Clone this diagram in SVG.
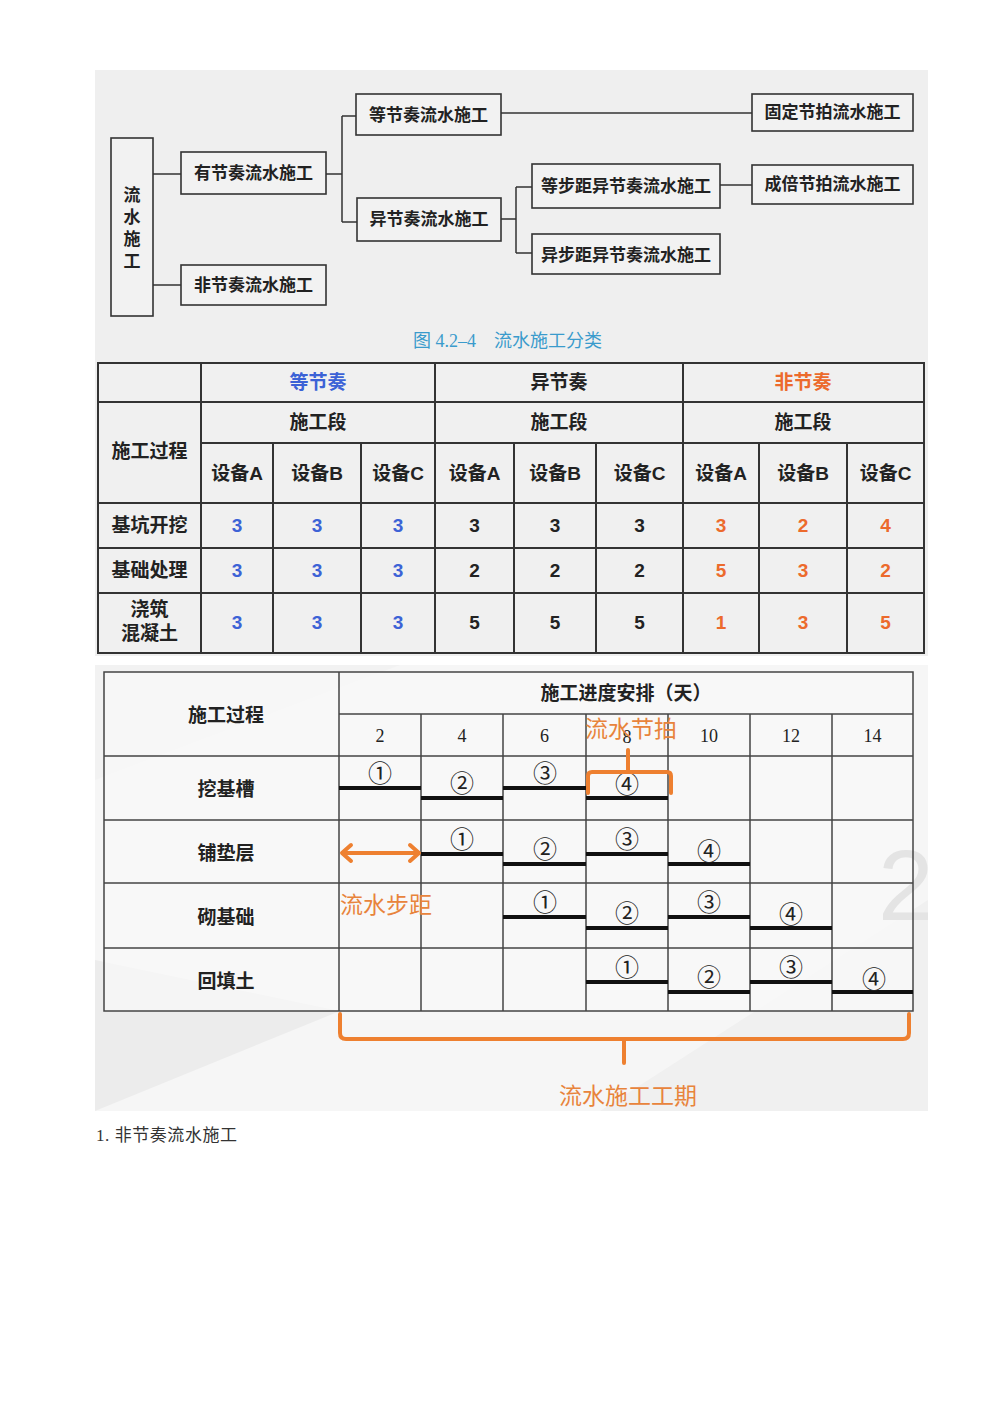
<svg xmlns="http://www.w3.org/2000/svg" width="1000" height="1414" viewBox="0 0 1000 1414">
<style>
.box{fill:#f2f2f2;stroke:#333;stroke-width:1.6}
.conn{fill:none;stroke:#333;stroke-width:1.5}
.tt{font-family:"Liberation Serif","Noto Sans CJK SC",serif;font-weight:bold;fill:#222;text-anchor:middle;dominant-baseline:central}
.tl{stroke:#333;stroke-width:2;fill:none}
.th{font-family:"Liberation Sans","Noto Sans CJK SC",sans-serif;font-weight:bold;font-size:19px;fill:#222;text-anchor:middle;dominant-baseline:central}
.blue{fill:#3c62d6}
.org{fill:#ec6a2c}
.gl{stroke:#444;stroke-width:1.5;fill:none}
.gt{font-family:"Liberation Serif","Noto Sans CJK SC",serif;font-weight:bold;font-size:19px;fill:#222;text-anchor:middle;dominant-baseline:central}
.num{font-family:"Liberation Serif","Noto Sans CJK SC",serif;font-size:18px;fill:#222;text-anchor:middle;dominant-baseline:central}
.cir{font-family:"Noto Sans CJK SC","DejaVu Sans",sans-serif;font-size:24px;fill:#222;text-anchor:middle;dominant-baseline:central}
.bar{stroke:#111;stroke-width:4}
.ann{fill:none;stroke:#ee8030;stroke-width:4;stroke-linecap:round;stroke-linejoin:round}
.at{font-family:"Noto Sans CJK SC","Liberation Sans",sans-serif;font-size:23px;fill:#e8843c;text-anchor:middle;dominant-baseline:central}
</style>
<rect width="1000" height="1414" fill="#ffffff"/>
<!-- top panel and table background -->
<rect x="95" y="70" width="833" height="586" fill="#efefef"/>

<!-- Tree connectors -->
<g id="tree-connectors">
<path class="conn" d="M153,174 H181 M153,285 H181"/>
<path class="conn" d="M326,174 H342 M342,116 V222 M342,116 H356 M342,222 H357"/>
<path class="conn" d="M501,113 H752"/>
<path class="conn" d="M501,219 H516 M516,187 V253 M516,187 H532 M516,253 H532"/>
<path class="conn" d="M720,185 H752"/>
</g>

<g id="node-root">
<rect class="box" x="111" y="138" width="42" height="178"/>
<text class="tt" font-size="17" x="132" y="195">流</text>
<text class="tt" font-size="17" x="132" y="217">水</text>
<text class="tt" font-size="17" x="132" y="239">施</text>
<text class="tt" font-size="17" x="132" y="261">工</text>
</g>
<g id="node-youjiezou">
<rect class="box" x="181" y="152" width="145" height="42"/>
<text class="tt" font-size="17" x="253.5" y="173">有节奏流水施工</text>
</g>
<g id="node-feijiezou">
<rect class="box" x="181" y="265" width="145" height="40"/>
<text class="tt" font-size="17" x="253.5" y="285">非节奏流水施工</text>
</g>
<g id="node-dengjiezou">
<rect class="box" x="356" y="94" width="145" height="41"/>
<text class="tt" font-size="17" x="428.5" y="115">等节奏流水施工</text>
</g>
<g id="node-yijiezou">
<rect class="box" x="357" y="198" width="144" height="43"/>
<text class="tt" font-size="17" x="429" y="219">异节奏流水施工</text>
</g>
<g id="node-guding">
<rect class="box" x="752" y="94" width="161" height="37"/>
<text class="tt" font-size="17" x="832.5" y="112">固定节拍流水施工</text>
</g>
<g id="node-dengbuju">
<rect class="box" x="532" y="164" width="188" height="44"/>
<text class="tt" font-size="17" x="626" y="186">等步距异节奏流水施工</text>
</g>
<g id="node-yibuju">
<rect class="box" x="532" y="234" width="188" height="40"/>
<text class="tt" font-size="17" x="626" y="255">异步距异节奏流水施工</text>
</g>
<g id="node-chengbei">
<rect class="box" x="752" y="165" width="161" height="39"/>
<text class="tt" font-size="17" x="832.5" y="184">成倍节拍流水施工</text>
</g>
<text x="413" y="341" font-family="Liberation Serif,'Noto Sans CJK SC',serif" font-size="18" fill="#3a9bcc" dominant-baseline="central">图 4.2–4　流水施工分类</text>

<!-- Table -->
<g id="table">
<rect x="98" y="363" width="826" height="290" fill="#f0f0f0" stroke="#333" stroke-width="2"/>
<path class="tl" d="M98,402 H924 M201,443 H924 M98,503 H924 M98,548 H924 M98,593 H924"/>
<path class="tl" d="M201,363 V653 M435,363 V653 M683,363 V653"/>
<path class="tl" d="M273,443 V653 M361,443 V653 M514,443 V653 M596,443 V653 M759,443 V653 M847,443 V653"/>
<text class="th blue" x="318" y="382">等节奏</text>
<text class="th" x="559" y="382">异节奏</text>
<text class="th org" x="803" y="382">非节奏</text>
<text class="th" x="318" y="422">施工段</text>
<text class="th" x="559" y="422">施工段</text>
<text class="th" x="803" y="422">施工段</text>
<text class="th" x="149.5" y="451">施工过程</text>
<text class="th" x="237" y="473">设备A</text>
<text class="th" x="317" y="473">设备B</text>
<text class="th" x="398" y="473">设备C</text>
<text class="th" x="474.5" y="473">设备A</text>
<text class="th" x="555" y="473">设备B</text>
<text class="th" x="639.5" y="473">设备C</text>
<text class="th" x="721" y="473">设备A</text>
<text class="th" x="803" y="473">设备B</text>
<text class="th" x="885.5" y="473">设备C</text>
<text class="th" x="149.5" y="525">基坑开挖</text>
<text class="th" x="149.5" y="570">基础处理</text>
<text class="th" x="149.5" y="609">浇筑</text>
<text class="th" x="149.5" y="633">混凝土</text>
<g font-weight="normal">
<text class="th blue" x="237" y="525">3</text><text class="th blue" x="317" y="525">3</text><text class="th blue" x="398" y="525">3</text>
<text class="th" x="474.5" y="525">3</text><text class="th" x="555" y="525">3</text><text class="th" x="639.5" y="525">3</text>
<text class="th org" x="721" y="525">3</text><text class="th org" x="803" y="525">2</text><text class="th org" x="885.5" y="525">4</text>
<text class="th blue" x="237" y="570">3</text><text class="th blue" x="317" y="570">3</text><text class="th blue" x="398" y="570">3</text>
<text class="th" x="474.5" y="570">2</text><text class="th" x="555" y="570">2</text><text class="th" x="639.5" y="570">2</text>
<text class="th org" x="721" y="570">5</text><text class="th org" x="803" y="570">3</text><text class="th org" x="885.5" y="570">2</text>
<text class="th blue" x="237" y="622">3</text><text class="th blue" x="317" y="622">3</text><text class="th blue" x="398" y="622">3</text>
<text class="th" x="474.5" y="622">5</text><text class="th" x="555" y="622">5</text><text class="th" x="639.5" y="622">5</text>
<text class="th org" x="721" y="622">1</text><text class="th org" x="803" y="622">3</text><text class="th org" x="885.5" y="622">5</text>
</g>
</g>

<!-- Gantt panel -->
<rect x="95" y="665" width="833" height="446" fill="#f6f6f6"/>
<polygon points="95,960 340,1011 95,1111" fill="#ececec"/>
<polygon points="600,1111 928,900 928,1111" fill="#f0f0f0"/>
<polygon points="95,665 400,665 95,780" fill="#f2f2f2"/>
<rect x="104" y="672" width="809" height="339" fill="#fafafa" fill-opacity="0.7"/>
<defs><clipPath id="pc"><rect x="95" y="665" width="833" height="446"/></clipPath></defs>
<text x="878" y="920" font-family="Liberation Sans,sans-serif" font-size="100" fill="#e4e4e4" clip-path="url(#pc)">2</text>

<g id="gantt">
<rect class="gl" x="104" y="672" width="809" height="339"/>
<path class="gl" d="M339,714 H913 M104,756 H913 M104,820 H913 M104,883 H913 M104,948 H913"/>
<path class="gl" d="M339,672 V1011 M421,714 V1011 M503,714 V1011 M586,714 V1011 M668,714 V1011 M750,714 V1011 M832,714 V1011"/>
<text class="gt" x="226" y="715">施工过程</text>
<text class="gt" x="626" y="693">施工进度安排（天）</text>
<text class="num" x="380" y="736">2</text>
<text class="num" x="462" y="736">4</text>
<text class="num" x="544.5" y="736">6</text>
<text class="num" x="627" y="737">8</text>
<text class="num" x="709" y="736">10</text>
<text class="num" x="791" y="736">12</text>
<text class="num" x="872.5" y="736">14</text>
<text class="gt" x="226" y="789">挖基槽</text>
<text class="gt" x="226" y="853">铺垫层</text>
<text class="gt" x="226" y="917">砌基础</text>
<text class="gt" x="226" y="981">回填土</text>
</g>

<g id="bars">
<line class="bar" x1="339" y1="788" x2="421" y2="788"/>
<line class="bar" x1="421" y1="798" x2="503" y2="798"/>
<line class="bar" x1="503" y1="788" x2="586" y2="788"/>
<line class="bar" x1="586" y1="798" x2="668" y2="798"/>
<text class="cir" x="380" y="771">①</text>
<text class="cir" x="462" y="781">②</text>
<text class="cir" x="545" y="771">③</text>
<text class="cir" x="627" y="782">④</text>

<line class="bar" x1="421" y1="854" x2="503" y2="854"/>
<line class="bar" x1="503" y1="864" x2="586" y2="864"/>
<line class="bar" x1="586" y1="854" x2="668" y2="854"/>
<line class="bar" x1="668" y1="864" x2="750" y2="864"/>
<text class="cir" x="462" y="837">①</text>
<text class="cir" x="545" y="847">②</text>
<text class="cir" x="627" y="837">③</text>
<text class="cir" x="709" y="849">④</text>

<line class="bar" x1="503" y1="917" x2="586" y2="917"/>
<line class="bar" x1="586" y1="928" x2="668" y2="928"/>
<line class="bar" x1="668" y1="917" x2="750" y2="917"/>
<line class="bar" x1="750" y1="928" x2="832" y2="928"/>
<text class="cir" x="545" y="900">①</text>
<text class="cir" x="627" y="911">②</text>
<text class="cir" x="709" y="900">③</text>
<text class="cir" x="791" y="912">④</text>

<line class="bar" x1="586" y1="982" x2="668" y2="982"/>
<line class="bar" x1="668" y1="992" x2="750" y2="992"/>
<line class="bar" x1="750" y1="982" x2="832" y2="982"/>
<line class="bar" x1="832" y1="992" x2="913" y2="992"/>
<text class="cir" x="627" y="965">①</text>
<text class="cir" x="709" y="975">②</text>
<text class="cir" x="791" y="965">③</text>
<text class="cir" x="874" y="977">④</text>
</g>

<g id="annotations">
<text class="at" x="631" y="727">流水节拍</text>
<path class="ann" d="M588,793 V776 Q588,772 592,772 H667 Q671,772 671,776 V793 M628,772 V750"/>
<path class="ann" d="M343,853 H418 M351,845 L342,853 L351,861 M410,845 L419,853 L410,861"/>
<text class="at" x="386" y="903">流水步距</text>
<path class="ann" d="M340,1014 V1033 Q340,1039 346,1039 H903 Q909,1039 909,1033 V1014 M624,1039 V1063"/>
<text class="at" x="628" y="1094">流水施工工期</text>
</g>

<text x="96" y="1135" font-family="Liberation Serif,'Noto Sans CJK SC',serif" font-size="17" fill="#333" dominant-baseline="central" textLength="141" lengthAdjust="spacing">1. 非节奏流水施工</text>
</svg>
